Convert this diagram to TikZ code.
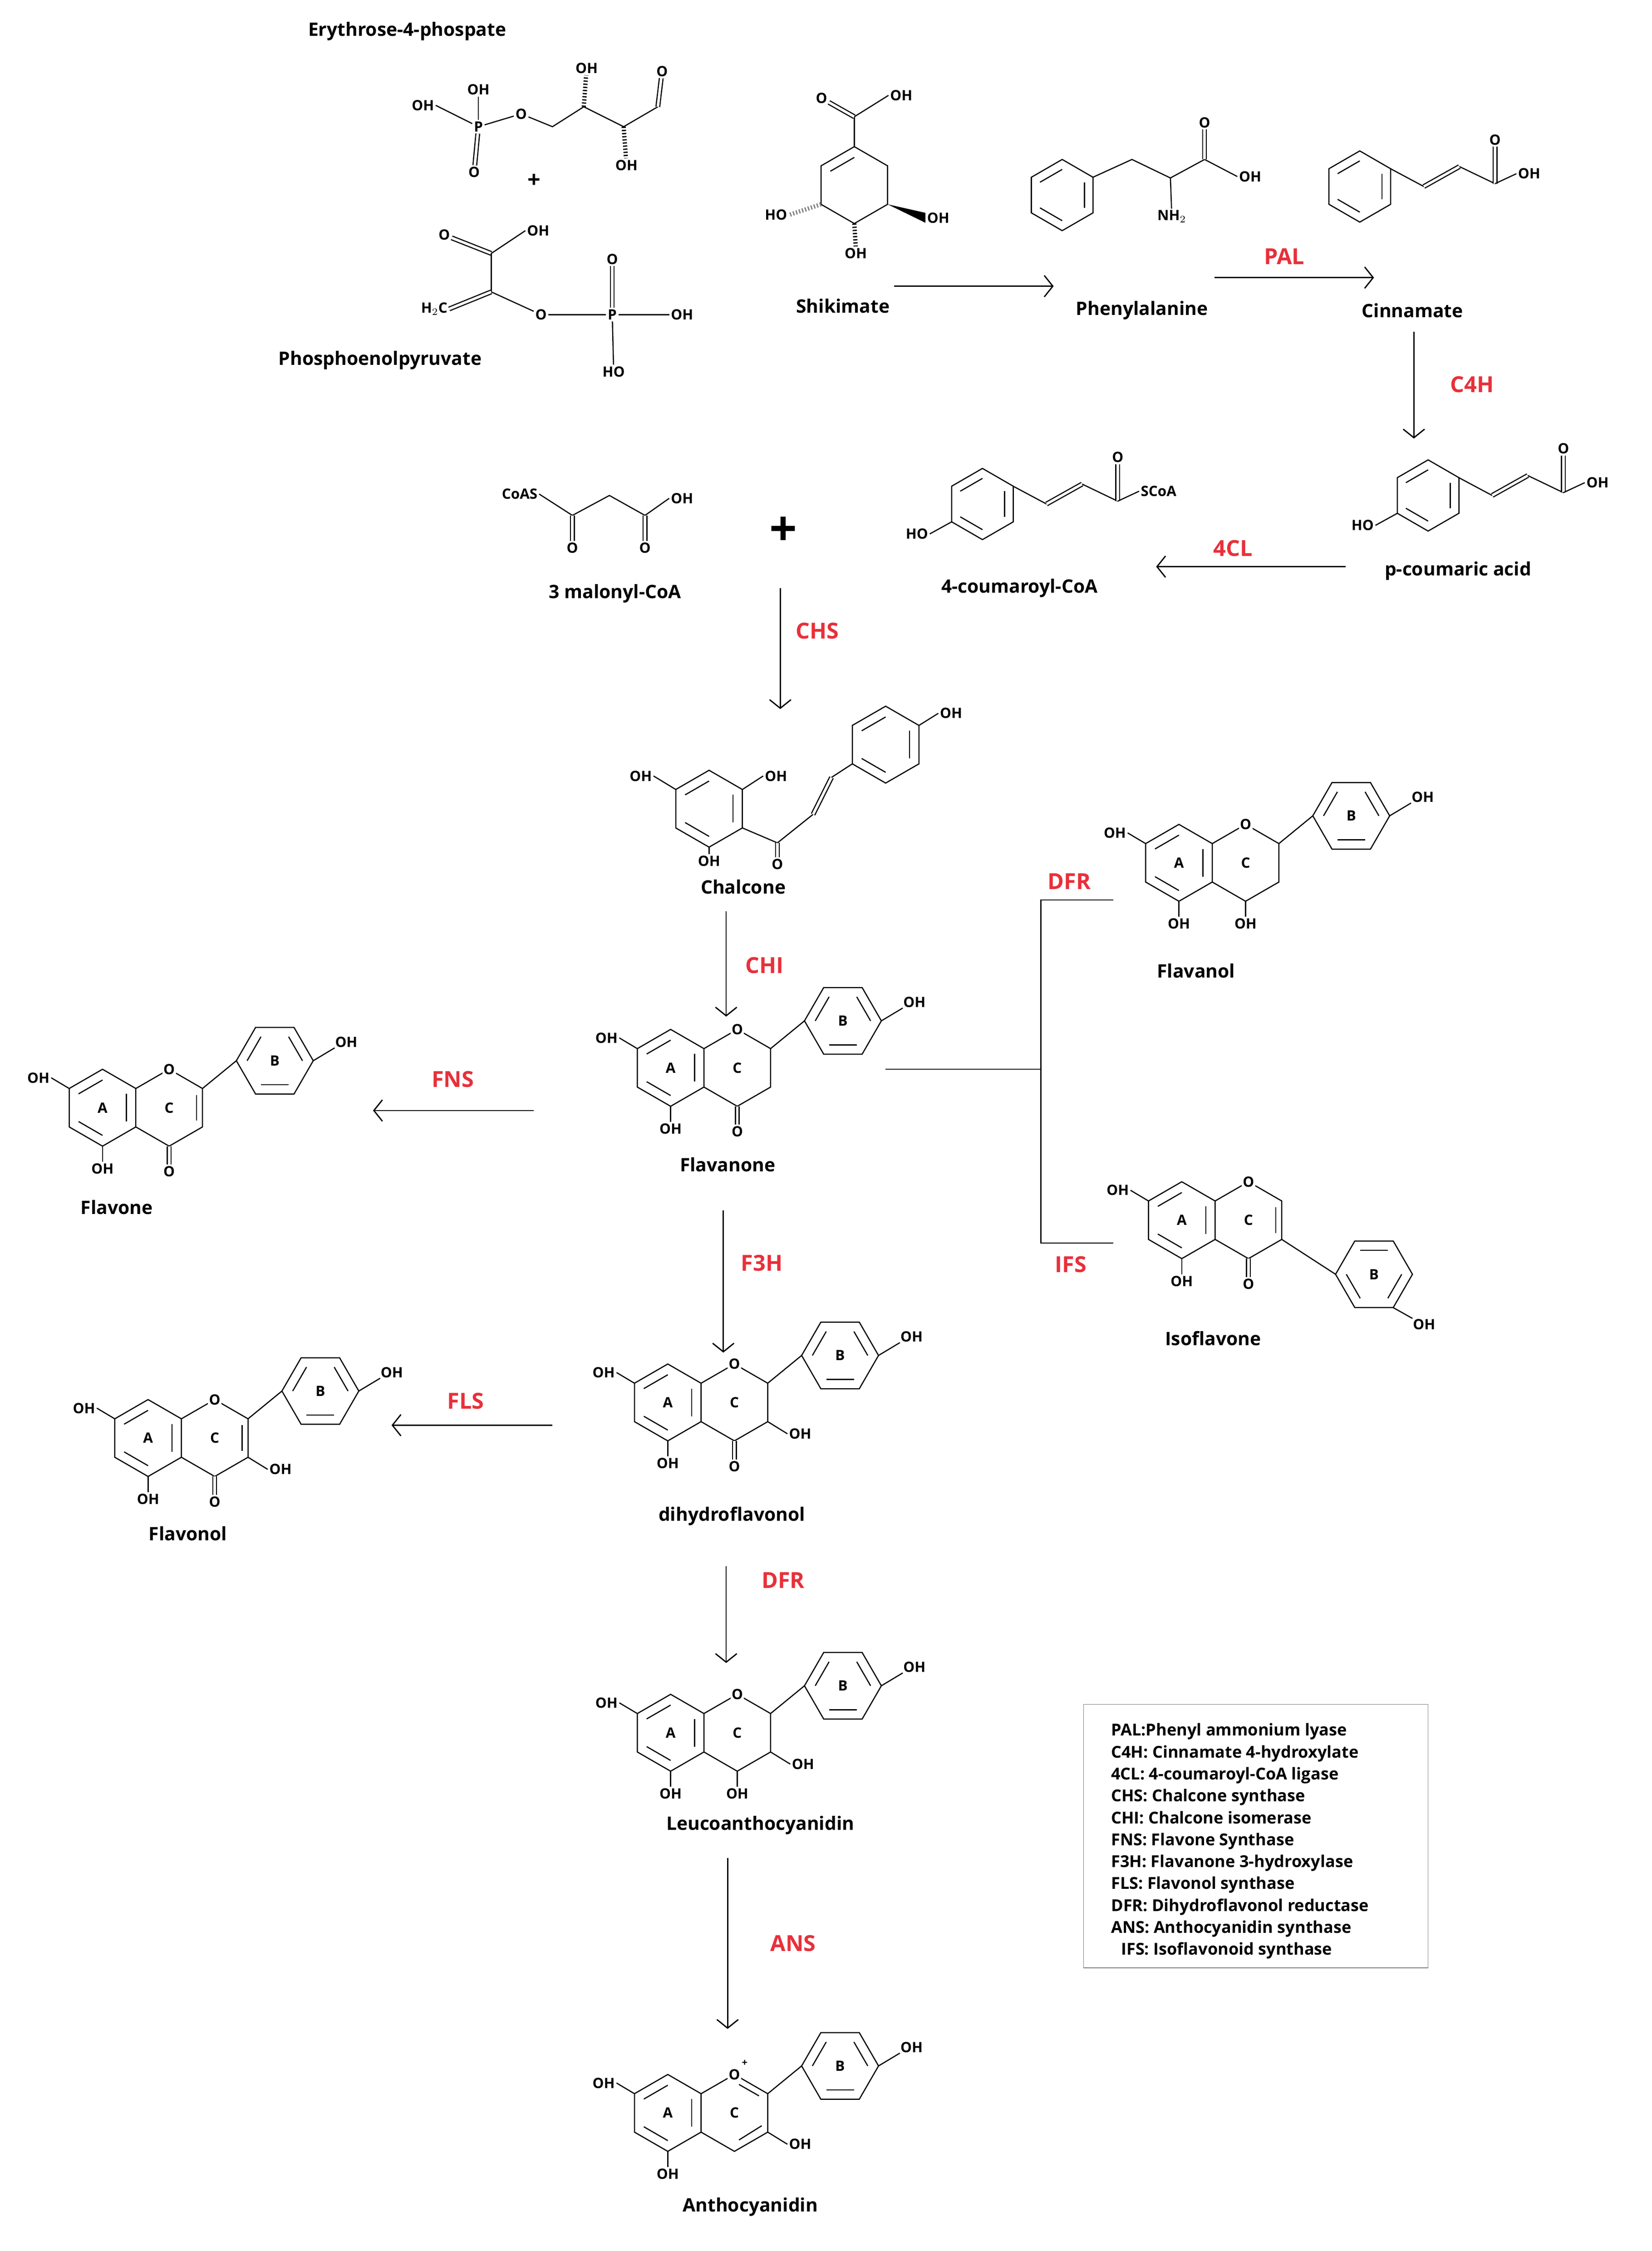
\documentclass[tikz,border=0pt]{standalone}
\usepackage{fontspec}
\setmainfont{Open Sans}
\usetikzlibrary{arrows.meta,calc}
\definecolor{enz}{RGB}{232,48,58}
\newcommand\atomf{\fontsize{10}{11}\selectfont\bfseries}
\newcommand\hexP[4]{\draw (#1,#2) +(-90:#3) -- +(-30:#3) -- +(30:#3) -- +(90:#3) -- +(150:#3) -- +(210:#3) -- cycle;
 \foreach \a in {#4}{\draw (#1,#2) +(\a:{0.72*#3}) -- +({\a+60}:{0.72*#3});}}
\newcommand\hexF[4]{\draw (#1,#2) +(0:#3) -- +(60:#3) -- +(120:#3) -- +(180:#3) -- +(240:#3) -- +(300:#3) -- cycle;
 \foreach \a in {#4}{\draw (#1,#2) +(\a:{0.72*#3}) -- +({\a+60}:{0.72*#3});}}
\newcommand\ringAC{%
 \hexP{0}{0}{27}{210,-30,90}
 \draw (23.4,-13.5)--(46.8,-27)--(70.2,-13.5)--(70.2,13.5)--(46.8,27)--(23.4,13.5);
 \node[atm,fill=white] at (46.8,-27) {O};
 \node[ringl] at (0,0){A}; \node[ringl] at (46.8,0){C};
 \draw (-23.4,-13.5)--(-36,-21) node[atm,anchor=east]{OH};
 \draw (0,27)--(0,38) node[atm,anchor=north]{OH};}
\newcommand\ringB{%
 \draw (70.2,-13.5)--(94,-33);
 \hexF{121}{-33}{27}{60,180,300}
 \node[ringl] at (121,-33){B};
 \draw (148,-33)--(163,-42) node[atm,anchor=south west,inner sep=0pt]{OH};}
\newcommand\COd{\draw[double,double distance=1.8pt] (46.8,27)--(46.8,40); \node[atm,anchor=north] at (46.8,40){O};}
\newcommand\OHc{\draw (70.2,13.5)--(84,22) node[atm,anchor=west]{OH};}
\newcommand\OHf{\draw (46.8,27)--(46.8,38) node[atm,anchor=north]{OH};}
\newcommand\dblCC{\draw (66,-9)--(66,9);}
\newcommand\cinn[3]{\begin{scope}[shift={(#1,#2)}]
 \hexP{0}{0}{25}{210,-30,90}
 \draw (21.6,-12.5)--(45,0);
 \draw[double,double distance=1.8pt] (45,0)--(70,-14);
 \draw (70,-14)--(95,-2);
 \draw[double,double distance=1.8pt] (95,-2)--(95,-28);
 \node[atm,anchor=south] at (95,-28){O};
 \draw (95,-2)--(110,-9) node[atm,anchor=west]{#3};
 \end{scope}}
\begin{document}
\begin{tikzpicture}[x=1pt,y=-1pt,line width=0.8pt,
 atm/.style={font=\atomf,inner sep=0.8pt},
 ringl/.style={font=\fontsize{10}{11}\selectfont\bfseries},
 lbl/.style={font=\fontsize{13}{15}\selectfont\bfseries},
 enzl/.style={font=\fontsize{15.5}{17}\selectfont\bfseries,text=enz},
 arr/.style={-{Straight Barb[length=6pt,width=15pt]},line width=0.9pt},
 hash/.style={line width=3pt,dash pattern=on 0.9pt off 1.3pt}]
\useasboundingbox (0,0) rectangle (1160,1581);
\fill[white] (0,0) rectangle (1160,1581);
% ---------- Erythrose-4-phosphate
\node[lbl] at (286,22){Erythrose-4-phospate};
\node[atm] (e1) at (297,74){OH};
\node[atm] (eP) at (336,89){P};
\node[atm] (e2) at (336,63){OH};
\node[atm] (e3) at (333,121){O};
\node[atm] (e4) at (366,80){O};
\node[atm] (e5) at (465,50){O};
\node[atm] (e6) at (412,48){OH};
\node[atm] (e7) at (440,116){OH};
\draw (e1.east)--(eP); \draw (eP)--(e2); \draw[double,double distance=1.8pt] (eP)--(e3); \draw (eP)--(e4);
\draw (e4)--(388,89)--(410,75)--(438,89)--(462,75);
\draw[double,double distance=1.8pt] (462,75)--(e5);
\draw[hash] (410,75)--(e6); \draw[hash] (438,89)--(e7);
\node[font=\fontsize{16}{16}\selectfont\bfseries] at (375,127){+};
% ---------- PEP
\node[atm] (p1) at (312,165){O};
\node[atm] (p2) at (378,162){OH};
\node[atm] (p3) at (305,217){H$_2$C};
\node[atm] (p4) at (380,221){O};
\node[atm] (pP) at (430,221){P};
\node[atm] (p5) at (430,182){O};
\node[atm] (p6) at (479,221){OH};
\node[atm] (p7) at (431,261){HO};
\draw[double,double distance=1.8pt] (p1)--(345,178);
\draw (345,178)--(p2.west); \draw (345,178)--(345,205);
\draw[double,double distance=1.8pt] (p3.east)--(345,205);
\draw (345,205)--(p4); \draw (p4)--(pP); \draw[double,double distance=1.8pt] (pP)--(p5);
\draw (pP)--(p6); \draw (pP)--(p7);
\node[lbl] at (267,253){Phosphoenolpyruvate};
% ---------- Shikimate
\hexP{600}{130}{27}{210}
\draw (600,103)--(600,82);
\node[atm] (s1) at (577,69){O}; \node[atm] (s2) at (633,67){OH};
\draw[double,double distance=1.8pt] (600,82)--(s1); \draw (600,82)--(s2.west);
\node[atm] (s3) at (545,151){HO};
\draw[hash,gray] (576.6,143.5)--(s3.east);
\node[atm] (s4) at (601,178){OH};
\draw[hash] (600,157)--(s4.north);
\node[atm] (s5) at (659,153){OH};
\fill (623.4,143.5)--($(s5.west)+(0,-3.5)$)--($(s5.west)+(0,3.5)$)--cycle;
\node[lbl] at (592,215){Shikimate};
% ---------- Phenylalanine
\hexP{746}{137}{25}{210,-30,90}
\draw (767.6,124.5)--(795,112)--(822,125)--(846,112);
\node[atm] (f1) at (823,152){NH$_2$}; \draw (822,125)--(f1);
\node[atm] (f2) at (846,86){O}; \draw[double,double distance=1.8pt] (846,112)--(f2);
\node[atm] (f3) at (878,124){OH}; \draw (846,112)--(f3.west);
\node[lbl] at (802,218){Phenylalanine};
% ---------- Cinnamate, p-coumaric, coumaroyl-CoA
\cinn{955}{131}{OH}
\node[lbl] at (992,218){Cinnamate};
\cinn{1003}{348}{OH}
\draw (981.4,360.5)--(966,369) node[atm,anchor=east]{HO};
\node[lbl] at (1024,401){p-coumaric acid};
\cinn{690}{354}{SCoA}
\draw (668.4,366.5)--(653,375) node[atm,anchor=east]{HO};
\node[lbl] at (716,413){4-coumaroyl-CoA};
% ---------- malonyl-CoA
\node[atm] (m1) at (365,347){CoAS};
\draw (m1.east)--(402,362)--(428,348)--(453,362);
\draw[double,double distance=1.8pt] (402,362)--(402,380) node[atm,anchor=north]{O};
\draw[double,double distance=1.8pt] (453,362)--(453,380) node[atm,anchor=north]{O};
\draw (453,362)--(470,350) node[atm,anchor=west]{OH};
\node[lbl] at (432,417){3 malonyl-CoA};
\node[font=\fontsize{34}{34}\selectfont\bfseries] at (550,373){+};
% ---------- Chalcone
\hexP{498}{568}{27}{210,-30,90}
\draw (474.6,554.5)--(459,545) node[atm,anchor=east]{OH};
\draw (521.4,554.5)--(536,545) node[atm,anchor=west]{OH};
\draw (498,595)--(498,600) node[atm,anchor=north]{OH};
\draw (521.4,581.5)--(546,592);
\draw[double,double distance=1.8pt] (546,592)--(546,602) node[atm,anchor=north]{O};
\draw (546,592)--(571,572);
\draw[double,double distance=1.8pt] (571,572)--(584,546);
\draw (584,546)--(598.6,536.5);
\hexP{622}{523}{27}{210,-30,90}
\draw (645.4,509.5)--(659,501) node[atm,anchor=west]{OH};
\node[lbl] at (522,623){Chalcone};
% ---------- Flavanone
\begin{scope}[shift={(471,750)}]\ringAC\ringB\COd\end{scope}
\node[lbl] at (511,818){Flavanone};
% ---------- Flavone
\begin{scope}[shift={(72,778)}]\ringAC\ringB\COd\dblCC\end{scope}
\node[lbl] at (82,848){Flavone};
% ---------- Flavonol
\begin{scope}[shift={(104,1010)}]\ringAC\ringB\COd\dblCC\OHc\end{scope}
\node[lbl] at (132,1077){Flavonol};
% ---------- Dihydroflavonol
\begin{scope}[shift={(469,985)}]\ringAC\ringB\COd\OHc\end{scope}
\node[lbl] at (514,1065){dihydroflavonol};
% ---------- Leucoanthocyanidin
\begin{scope}[shift={(471,1217)}]\ringAC\ringB\OHc\OHf\end{scope}
\node[lbl] at (534,1282){Leucoanthocyanidin};
% ---------- Anthocyanidin
\begin{scope}[shift={(469,1484)}]\ringAC\ringB\OHc
 \draw (50,-20)--(64,-12); \draw (66,9)--(50,19);
 \node[font=\fontsize{7}{7}\selectfont\bfseries] at (54,-35){+};\end{scope}
\node[lbl] at (527,1550){Anthocyanidin};
% ---------- Flavanol
\begin{scope}[shift={(828,606)}]\ringAC\ringB\OHf\end{scope}
\node[lbl] at (840,682){Flavanol};
% ---------- Isoflavone
\begin{scope}[shift={(830,857)}]\ringAC\COd\dblCC
 \draw (70.2,13.5)--(108,38);
 \hexF{135}{38}{27}{0,120,240}
 \node[ringl] at (135,38){B};
 \draw (148.5,61.4)--(162,69) node[atm,anchor=north west,inner sep=0pt]{OH};
\end{scope}
\node[lbl] at (852,940){Isoflavone};
% ---------- arrows
\coordinate (a1) at (628,201); \coordinate (a2) at (740,201);
\draw[arr] (a1)--(a2);
\coordinate (b1) at (853,195); \coordinate (b2) at (965,195);
\draw[arr] (b1)--(b2); \node[enzl] at (902,180){PAL};
\coordinate (c1) at (993,233); \coordinate (c2) at (993,308);
\draw[arr] (c1)--(c2); \node[enzl] at (1034,270){C4H};
\coordinate (d1) at (945,398); \coordinate (d2) at (812,398);
\draw[arr] (d1)--(d2); \node[enzl] at (866,385){4CL};
\coordinate (g1) at (548,413); \coordinate (g2) at (548,498);
\draw[arr] (g1)--(g2); \node[enzl] at (574,443){CHS};
\coordinate (h1) at (510,640); \coordinate (h2) at (510,714);
\draw[arr] (h1)--(h2); \node[enzl] at (537,678){CHI};
\coordinate (i1) at (375,780); \coordinate (i2) at (262,780);
\draw[arr] (i1)--(i2); \node[enzl] at (318,758){FNS};
\coordinate (j1) at (508,850); \coordinate (j2) at (508,950);
\draw[arr] (j1)--(j2); \node[enzl] at (535,887){F3H};
\coordinate (k1) at (388,1001); \coordinate (k2) at (275,1001);
\draw[arr] (k1)--(k2); \node[enzl] at (327,984){FLS};
\coordinate (l1) at (510,1100); \coordinate (l2) at (510,1168);
\draw[arr] (l1)--(l2); \node[enzl] at (550,1110){DFR};
\coordinate (n1) at (511,1305); \coordinate (n2) at (511,1425);
\draw[arr] (n1)--(n2); \node[enzl] at (557,1365){ANS};
% branch
\coordinate (q0) at (622,751); \coordinate (q1) at (731,751);
\coordinate (q2) at (731,632); \coordinate (q3) at (782,632);
\coordinate (q4) at (731,873); \coordinate (q5) at (782,873);
\draw (q0)--(q1); \draw (q3)--(q2)--(q4)--(q5);
\node[enzl] at (751,619){DFR}; \node[enzl] at (752,888){IFS};
% ---------- legend
\draw[line width=0.5pt,gray] (761,1197) rectangle (1003,1382);
\node[anchor=north west,align=left,font=\fontsize{11.5}{15.4}\selectfont\bfseries,inner sep=0pt] at (780,1210){%
PAL:Phenyl ammonium lyase\\
C4H: Cinnamate 4-hydroxylate\\
4CL: 4-coumaroyl-CoA ligase\\
CHS: Chalcone synthase\\
CHI: Chalcone isomerase\\
FNS: Flavone Synthase\\
F3H: Flavanone 3-hydroxylase\\
FLS: Flavonol synthase\\
DFR: Dihydroflavonol reductase\\
ANS: Anthocyanidin synthase\\
\hspace*{7pt}IFS: Isoflavonoid synthase};
\end{tikzpicture}
\end{document}
